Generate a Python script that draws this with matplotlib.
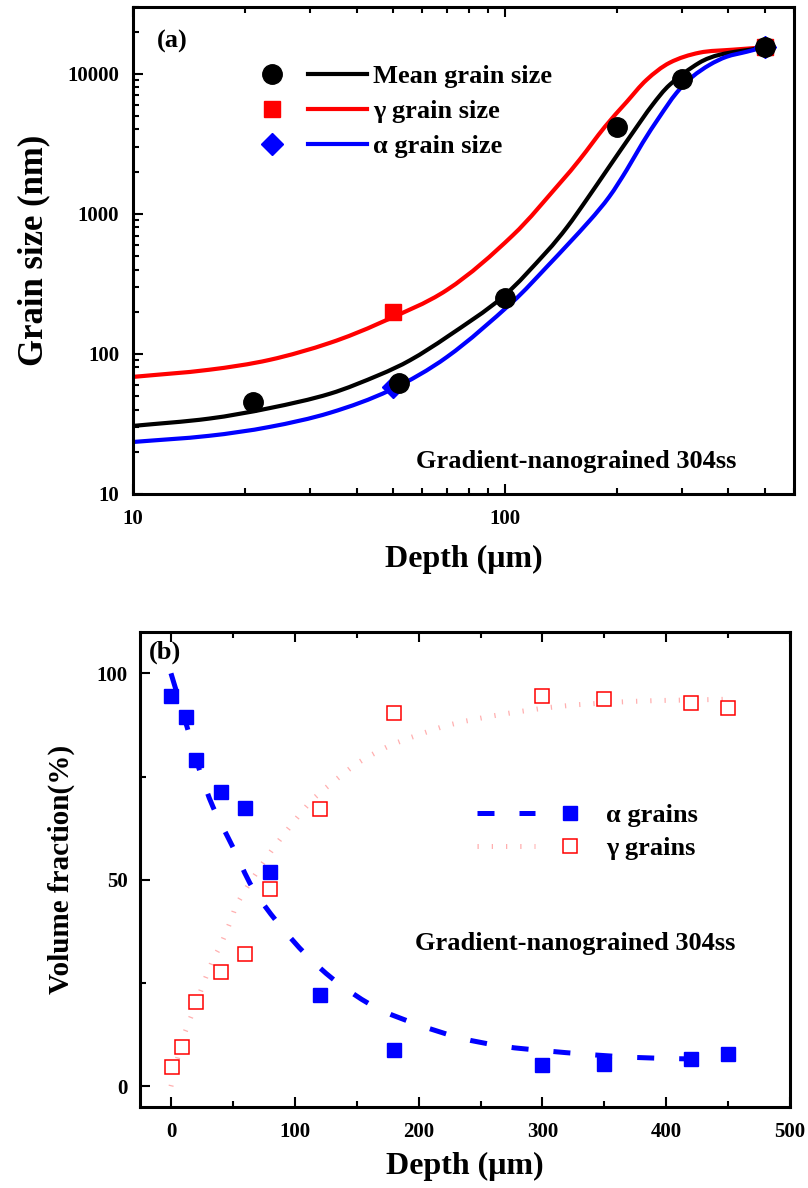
import matplotlib

matplotlib.use("Agg")

import matplotlib.pyplot as plt
import matplotlib.ticker as mticker
import numpy as np
from matplotlib.lines import Line2D
from matplotlib.legend_handler import HandlerBase
from matplotlib.patches import PathPatch
from matplotlib.path import Path

plt.rcParams["font.family"] = ["Liberation Serif", "DejaVu Serif"]
plt.rcParams["font.weight"] = "bold"

# ---- panel (a): grain size vs depth (log-log) ----
mean_depth = [21, 52, 100, 200, 300, 500]
mean_size = [45, 62, 250, 4200, 9200, 15500]
gamma_depth = [50, 500]
gamma_size = [200, 15500]
alpha_depth = [50, 500]
alpha_size = [58, 15500]

# fitted curves
mean_fit_x = [10, 16, 23.3, 33.9, 46.1, 55.6, 69.9, 98.8, 130, 147, 166, 191, 221, 250, 278, 334, 379, 485, 500]
mean_fit_y = [30.6, 34.5, 41, 52, 71, 90, 132, 255, 540, 800, 1259, 2166, 3793, 6012, 8340, 11990, 13670, 15200, 15400]
gamma_fit_x = [10, 16, 23.3, 33.9, 46.1, 69.9, 105, 142, 159, 186, 213, 241, 278, 334, 410, 485, 500]
gamma_fit_y = [68.5, 77, 90.6, 120, 166, 286, 700, 1700, 2432, 4180, 6300, 9060, 11990, 14130, 14840, 15340, 15500]
alpha_fit_x = [10, 16, 23.3, 33.9, 49.1, 69.9, 105, 130, 169, 191, 213, 235, 261, 290, 320, 356, 395, 448, 500]
alpha_fit_y = [23.5, 26, 30.1, 38, 55, 95, 235, 420, 890, 1321, 2060, 3213, 4930, 7310, 9520, 11580, 13210, 14360, 15500]

# ---- panel (b): volume fraction vs depth ----
frac_depth = [0, 12, 20, 40, 60, 80, 120, 180, 300, 350, 420, 450]
alpha_frac = [94.5, 89.5, 79, 71.3, 67.5, 52, 22, 8.7, 5.2, 5.5, 6.6, 7.9]
gamma_depth_b = [1, 9, 20, 40, 60, 80, 120, 180, 300, 350, 420, 450]
gamma_frac = [4.7, 9.5, 20.3, 27.8, 32, 47.8, 67.2, 90.5, 94.4, 93.9, 92.7, 91.5]

alpha_frac_fit_x = [0, 13, 23, 34, 50, 66, 86, 110, 135, 166, 199, 234, 268, 306, 357, 394, 430, 450]
alpha_frac_fit_y = [100, 87, 76.6, 67.6, 57.9, 48, 39.7, 31.6, 25, 19, 15, 11.7, 9.7, 8.5, 7.3, 6.8, 6.6, 6.5]
gamma_frac_fit_x = [0, 9, 17, 23.4, 33, 41, 47.7, 54, 77.6, 93.8, 114, 131, 151, 174.6, 196, 226, 266, 314, 373, 446]
gamma_frac_fit_y = [0, 11, 17.5, 22.6, 30, 34.8, 39.7, 44.5, 55.5, 62, 69.3, 73.7, 78.3, 82.2, 84.7, 87.6, 90, 92, 93.2, 93.7]

BLUE = "#0000FF"
RED = "#FF0000"
PINK = "#FFAFAF"
ALPHA_DASH = (0, (3.4, 5))
GAMMA_DOT = (0, (0.25, 2.6))

fig = plt.figure(figsize=(8.08, 11.88), dpi=100)
ax1 = fig.add_axes([0.1646, 0.5842, 0.818, 0.41])
ax2 = fig.add_axes([0.1733, 0.0682, 0.8045, 0.3998])


def smooth_curve(ax, xs, ys, **kw):
    # smooth line through the read points (bezier in screen space)
    pts = ax.transData.transform(np.column_stack([xs, ys]))
    n = len(pts)
    verts = [pts[0]]
    codes = [Path.MOVETO]
    for i in range(n - 1):
        p0, p1 = pts[max(i - 1, 0)], pts[i]
        p2, p3 = pts[i + 1], pts[min(i + 2, n - 1)]
        d = np.linalg.norm(p2 - p1)
        t1 = (p2 - p0) / np.linalg.norm(p2 - p0)
        t2 = (p3 - p1) / np.linalg.norm(p3 - p1)
        verts += [p1 + t1 * d / 3, p2 - t2 * d / 3, p2]
        codes += [Path.CURVE4] * 3
    verts = ax.transData.inverted().transform(np.array(verts))
    ax.add_patch(PathPatch(Path(verts, codes), fill=False, transform=ax.transData, **kw))


class SplitHandler(HandlerBase):
    """marker and line side by side, as in the original legend"""

    def __init__(self, marker_pos, line_span):
        super().__init__()
        self.marker_pos = marker_pos
        self.line_span = line_span

    def create_artists(self, legend, orig_handle, xdescent, ydescent,
                       width, height, fontsize, trans):
        mk, ln = orig_handle
        y = height / 2 - ydescent
        line = Line2D([self.line_span[0] * width - xdescent,
                       self.line_span[1] * width - xdescent], [y, y])
        line.update_from(ln)
        line.set_transform(trans)
        marker = Line2D([self.marker_pos * width - xdescent], [y])
        marker.update_from(mk)
        marker.set_transform(trans)
        return [line, marker]


def style_axes(ax):
    for side in ("left", "bottom", "top", "right"):
        ax.spines[side].set_linewidth(2.2)
    ax.tick_params(which="both", direction="in", top=True, right=False, width=1.5)
    ax.tick_params(which="major", length=7, labelsize=15)
    ax.tick_params(which="minor", length=4)
    for lab in ax.get_xticklabels() + ax.get_yticklabels():
        lab.set_fontweight("bold")


# panel (a)
ax1.set_xscale("log")
ax1.set_yscale("log")
ax1.set_xlim(10, 600)
ax1.set_ylim(10, 30000)

smooth_curve(ax1, gamma_fit_x, gamma_fit_y, edgecolor=RED, lw=3, zorder=2)
smooth_curve(ax1, mean_fit_x, mean_fit_y, edgecolor="black", lw=3, zorder=2)
smooth_curve(ax1, alpha_fit_x, alpha_fit_y, edgecolor=BLUE, lw=3, zorder=2)
ax1.plot(gamma_depth, gamma_size, "s", color=RED, ms=11.5, zorder=3)
ax1.plot(alpha_depth, alpha_size, "D", color=BLUE, ms=11, zorder=3)
ax1.plot(mean_depth, mean_size, "o", color="black", ms=14, zorder=4)

fmt = mticker.FuncFormatter(lambda v, p: f"{v:g}")
ax1.xaxis.set_major_formatter(fmt)
ax1.yaxis.set_major_formatter(fmt)
ax1.xaxis.set_minor_formatter(mticker.NullFormatter())
ax1.yaxis.set_minor_formatter(mticker.NullFormatter())
style_axes(ax1)
ax1.tick_params(axis="x", pad=11)
ax1.tick_params(axis="y", pad=10)
ax1.set_xlabel("Depth (μm)", fontsize=23, fontweight="bold")
ax1.set_ylabel("Grain size (nm)", fontsize=25, fontweight="bold")
ax1.xaxis.set_label_coords(0.5, -0.105)
ax1.yaxis.set_label_coords(-0.125, 0.5)
ax1.text(0.036, 0.93, "(a)", transform=ax1.transAxes, fontsize=19,
         fontweight="bold", va="center")
ax1.text(0.67, 0.066, "Gradient-nanograined 304ss", transform=ax1.transAxes,
         fontsize=19, fontweight="bold", ha="center", va="center")

leg_handles = [
    (Line2D([], [], ls="", marker="o", color="black", ms=14), Line2D([], [], color="black", lw=3)),
    (Line2D([], [], ls="", marker="s", color=RED, ms=11.5), Line2D([], [], color=RED, lw=3)),
    (Line2D([], [], ls="", marker="D", color=BLUE, ms=11), Line2D([], [], color=BLUE, lw=3)),
]
ax1.legend(leg_handles, ["Mean grain size", "γ grain size", "α grain size"],
           handler_map={tuple: SplitHandler(0.16, (0.48, 1.0))},
           loc="upper left", bbox_to_anchor=(0.183, 0.881), frameon=False,
           handlelength=4.3, handletextpad=0.2, labelspacing=0.43,
           prop={"size": 19, "weight": "bold"}, borderaxespad=0, borderpad=0)

# panel (b)
ax2.set_xlim(-25, 500)
ax2.set_ylim(-5, 110)
smooth_curve(ax2, alpha_frac_fit_x, alpha_frac_fit_y, edgecolor=BLUE, lw=3.6,
             ls=ALPHA_DASH, zorder=2)
smooth_curve(ax2, gamma_frac_fit_x, gamma_frac_fit_y, edgecolor=PINK, lw=3.6,
             ls=GAMMA_DOT, zorder=2)
ax2.plot(frac_depth, alpha_frac, "s", color=BLUE, ms=10, zorder=3)
ax2.plot(gamma_depth_b, gamma_frac, "s", mfc="white", mec=RED, mew=1.1,
         ms=10, zorder=3)

ax2.xaxis.set_major_locator(mticker.MultipleLocator(100))
ax2.xaxis.set_minor_locator(mticker.MultipleLocator(50))
ax2.yaxis.set_major_locator(mticker.MultipleLocator(50))
ax2.yaxis.set_minor_locator(mticker.MultipleLocator(25))
style_axes(ax2)
ax2.tick_params(axis="x", pad=11)
ax2.tick_params(axis="y", pad=9)
ax2.set_xlabel("Depth (μm)", fontsize=23, fontweight="bold")
ax2.set_ylabel("Volume fraction(%)", fontsize=21, fontweight="bold")
ax2.xaxis.set_label_coords(0.5, -0.095)
ax2.yaxis.set_label_coords(-0.1, 0.5)
ax2.text(0.014, 0.958, "(b)", transform=ax2.transAxes, fontsize=19,
         fontweight="bold", va="center")
ax2.text(0.67, 0.345, "Gradient-nanograined 304ss", transform=ax2.transAxes,
         fontsize=19, fontweight="bold", ha="center", va="center")

leg2_handles = [
    (Line2D([], [], ls="", marker="s", color=BLUE, ms=10),
     Line2D([], [], color=BLUE, lw=3.6, ls=ALPHA_DASH)),
    (Line2D([], [], ls="", marker="s", mfc="white", mec=RED, mew=1.1, ms=10),
     Line2D([], [], color=PINK, lw=3.6, ls=GAMMA_DOT)),
]
ax2.legend(leg2_handles, ["α grains", "γ grains"],
           handler_map={tuple: SplitHandler(0.82, (0.0, 0.51))},
           loc="upper left", bbox_to_anchor=(0.518, 0.639), frameon=False,
           handlelength=4.3, handletextpad=0.6, labelspacing=0.38,
           prop={"size": 19, "weight": "bold"}, borderaxespad=0, borderpad=0)

fig.savefig("out.png", dpi=100, facecolor="white")
